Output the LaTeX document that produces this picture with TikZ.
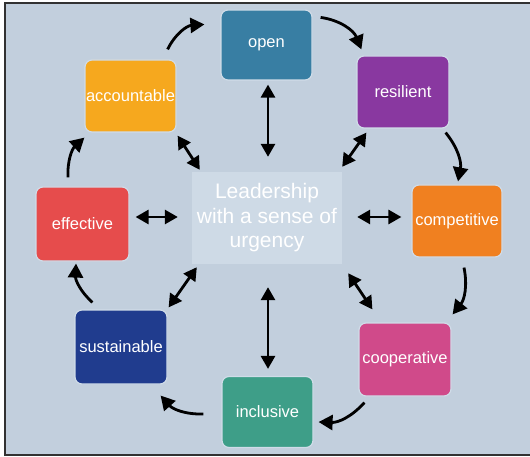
\documentclass[tikz,border=0pt]{standalone}
\usepackage{fontspec}
\setmainfont{Liberation Sans}
\usetikzlibrary{arrows.meta}
\definecolor{bgc}{RGB}{194,207,221}
\definecolor{halo}{RGB}{208,220,232}
\definecolor{centc}{RGB}{206,218,230}
\definecolor{openc}{RGB}{56,126,163}
\definecolor{resc}{RGB}{137,56,160}
\definecolor{compc}{RGB}{240,128,32}
\definecolor{coopc}{RGB}{208,74,138}
\definecolor{inclc}{RGB}{62,158,136}
\definecolor{sustc}{RGB}{32,60,142}
\definecolor{effc}{RGB}{230,76,76}
\definecolor{accc}{RGB}{246,168,30}
\definecolor{framec}{RGB}{50,50,50}
\tikzset{
  box/.style={rectangle, rounded corners=7pt, draw=halo, line width=1.2pt,
    text=white, font=\fontsize{16.5}{19}\selectfont, inner sep=0pt,
    minimum width=91pt, minimum height=72pt},
  centerbox/.style={rectangle, fill=centc, text=white, inner sep=0pt,
    align=center, font=\fontsize{21}{24.5}\selectfont,
    minimum width=150pt, minimum height=92pt},
  cyc/.style={line width=2.8pt, -{Triangle[length=14pt,width=15pt]}},
  dbl/.style={line width=2.8pt, {Triangle[length=13pt,width=14pt]}-{Triangle[length=13pt,width=14pt]}}
}
\begin{document}
\begin{tikzpicture}[x=1pt,y=-1pt]
\useasboundingbox (0,0) rectangle (530,457);
\fill[white] (0,0) rectangle (530,457);
\fill[bgc] (5,3) rectangle (530,455);
\draw[framec, line width=1.5pt] (530,3) -- (5,3) -- (5,455) -- (530,455);

\node[centerbox] (ctr) at (267,218) {Leadership\\with a sense of\\urgency};

\node[box, fill=openc, minimum height=70pt] (open) at (266.5,45) {open};
\node[box, fill=resc, minimum width=92pt] (res) at (403,92) {resilient};
\node[box, fill=compc, minimum width=90pt] (comp) at (457,221) {competitive};
\node[box, fill=coopc, minimum width=92pt, minimum height=73pt] (coop) at (405,359.5) {cooperative};
\node[box, fill=inclc, minimum height=71pt] (incl) at (267.5,412) {inclusive};
\node[box, fill=sustc, minimum width=92pt, minimum height=74pt] (sust) at (121,347) {sustainable};
\node[box, fill=effc, minimum width=93pt, minimum height=74pt] (eff) at (82.5,224) {effective};
\node[box, fill=accc] (acc) at (130.5,96) {accountable};

% cycle arrows (clockwise)
\draw[cyc] ([shift={(-9,-10)}]acc.north east) to[bend left=30] ([shift={(-16,15)}]open.north west);
\draw[cyc] ([shift={(8,8)}]open.north east) to[bend left=30] ([shift={(5,-6)}]res.north west);
\draw[cyc] ([shift={(-4,4)}]res.south east) to[bend left=25] ([shift={(1,-3)}]comp.north);
\draw[cyc] ([shift={(7,10)}]comp.south) to[bend left=25] ([shift={(1,-8)}]coop.north east);
\draw[cyc] ([shift={(6,6)}]coop.south west) to[bend left=25] ([shift={(5,10)}]incl.east);
\draw[cyc] ([shift={(-18,2)}]incl.west) to[bend left=25] ([shift={(-7,11)}]sust.south east);
\draw[cyc] ([shift={(18,-7)}]sust.north west) to[bend left=25] ([shift={(-6.5,2)}]eff.south);
\draw[cyc] ([shift={(-14.5,-9)}]eff.north) to[bend left=25] ([shift={(0,5)}]acc.south west);

% double arrows to centre
\draw[dbl] ([shift={(1.5,4)}]open.south) -- ([shift={(1,-15)}]ctr.north);
\draw[dbl] ([shift={(10,4)}]res.south west) -- ([shift={(0,-5)}]ctr.north east);
\draw[dbl] ([shift={(-10,-4)}]comp.west) -- ([shift={(15,-1)}]ctr.east);
\draw[dbl] ([shift={(14,-13)}]coop.north west) -- ([shift={(6,9)}]ctr.south east);
\draw[dbl] ([shift={(0.5,-7)}]incl.north) -- ([shift={(1,23)}]ctr.south);
\draw[dbl] ([shift={(1,-2)}]sust.north east) -- ([shift={(5,3)}]ctr.south west);
\draw[dbl] ([shift={(6,-7)}]eff.east) -- ([shift={(-14,-1)}]ctr.west);
\draw[dbl] ([shift={(1,3)}]acc.south east) -- ([shift={(8,-2)}]ctr.north west);
\end{tikzpicture}
\end{document}
